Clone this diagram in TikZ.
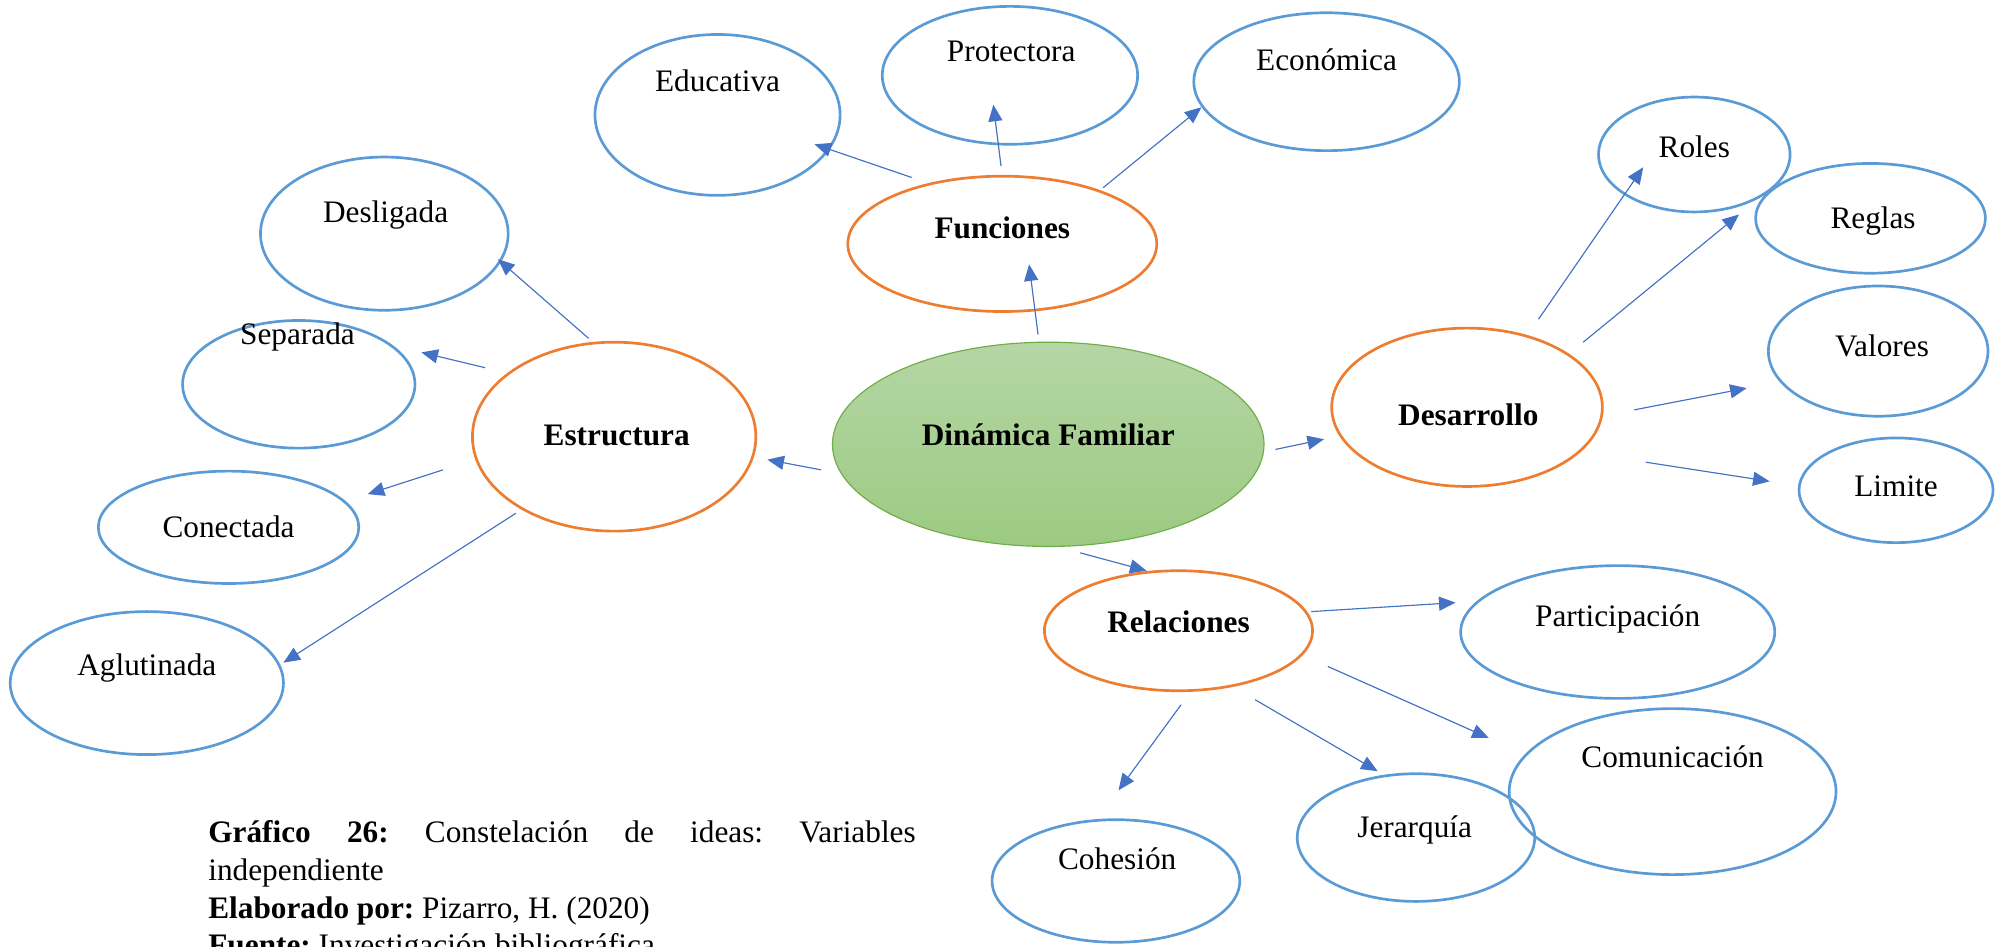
\documentclass[tikz,border=0pt]{standalone}
\usepackage{fontspec}
\setmainfont{Liberation Serif}
\usetikzlibrary{shapes.geometric,arrows.meta}
\definecolor{eblue}{HTML}{5B9BD5}
\definecolor{eorange}{HTML}{ED7D31}
\definecolor{ablue}{HTML}{4472C4}
\definecolor{egreen}{HTML}{70AD47}
\definecolor{gtop}{HTML}{B5D6A5}
\definecolor{gbot}{HTML}{9CCA82}
\frenchspacing
\tikzset{
  leaf/.style={ellipse, draw=eblue, line width=2.1pt, inner sep=0pt},
  hub/.style={ellipse, draw=eorange, line width=2.1pt, inner sep=0pt},
  lbl/.style={anchor=base, inner sep=0pt, font=\fontsize{24.5}{29.5}\selectfont},
  blbl/.style={lbl, font=\fontsize{24.5}{29.5}\selectfont\bfseries},
  arr/.style={draw=ablue, line width=0.9pt, -{Triangle[length=13pt,width=11pt]}, fill=ablue},
}
\begin{document}
\begin{tikzpicture}[x=1pt,y=-1pt]
\useasboundingbox (0,0) rectangle (1568,741);
% ellipses
\node[ellipse, draw=egreen, line width=0.9pt, top color=gtop, bottom color=gbot, minimum width=338pt, minimum height=160pt, inner sep=0pt] (din) at (821,348) {};
\node[hub, minimum width=242pt, minimum height=106pt] (fun) at (785,191) {};
\node[hub, minimum width=222pt, minimum height=148pt] (est) at (481,342) {};
\node[hub, minimum width=212pt, minimum height=124pt] (des) at (1149,319) {};
\node[hub, minimum width=210pt, minimum height=94pt] (rel) at (923,494) {};
\node[leaf, minimum width=192pt, minimum height=126pt] (edu) at (562,90) {};
\node[leaf, minimum width=200pt, minimum height=108pt] (pro) at (791,59) {};
\node[leaf, minimum width=208pt, minimum height=108pt] (eco) at (1039,64) {};
\node[leaf, minimum width=194pt, minimum height=120pt] (dsl) at (301,183) {};
\node[leaf, minimum width=182pt, minimum height=100pt] (sep) at (234,301) {};
\node[leaf, minimum width=204pt, minimum height=88pt] (con) at (179,413) {};
\node[leaf, minimum width=214pt, minimum height=112pt] (agl) at (115,535) {};
\node[leaf, minimum width=150pt, minimum height=90pt] (rol) at (1327,121) {};
\node[leaf, minimum width=180pt, minimum height=86pt] (reg) at (1465,171) {};
\node[leaf, minimum width=172pt, minimum height=102pt] (val) at (1471,275) {};
\node[leaf, minimum width=152pt, minimum height=82pt] (lim) at (1485,384) {};
\node[leaf, minimum width=246pt, minimum height=104pt] (par) at (1267,495) {};
\node[leaf, minimum width=256pt, minimum height=130pt] (com) at (1310,620) {};
\node[leaf, minimum width=186pt, minimum height=100pt] (jer) at (1109,656) {};
\node[leaf, minimum width=194pt, minimum height=96pt] (coh) at (874,690) {};
% labels
\node[blbl] (dinT) at (821,349) {Dinámica Familiar};
\node[blbl] (funT) at (785,187) {Funciones};
\node[blbl] (estT) at (483,349) {Estructura};
\node[blbl] (desT) at (1150,333) {Desarrollo};
\node[blbl] (relT) at (923,495) {Relaciones};
\node[lbl] (eduT) at (562,72) {Educativa};
\node[lbl] (proT) at (792,48) {Protectora};
\node[lbl] (ecoT) at (1039,55) {Económica};
\node[lbl] (dslT) at (302,174) {Desligada};
\node[lbl] (sepT) at (233,270) {Separada};
\node[lbl] (conT) at (179,421) {Conectada};
\node[lbl] (aglT) at (115,529) {Aglutinada};
\node[lbl] (rolT) at (1327,123) {Roles};
\node[lbl] (regT) at (1467,179) {Reglas};
\node[lbl] (valT) at (1474,279) {Valores};
\node[lbl] (limT) at (1485,389) {Limite};
\node[lbl] (parT) at (1267,491) {Participación};
\node[lbl] (comT) at (1310,601) {Comunicación};
\node[lbl] (jerT) at (1108,656) {Jerarquía};
\node[lbl] (cohT) at (875,681) {Cohesión};
% arrow endpoints
\coordinate (a1s) at (813,262); \coordinate (a1e) at (806,207);
\coordinate (a2s) at (714,139); \coordinate (a2e) at (638,113);
\coordinate (a3s) at (784,130); \coordinate (a3e) at (778,82);
\coordinate (a4s) at (864,147); \coordinate (a4e) at (941,84);
\coordinate (a5s) at (643,368); \coordinate (a5e) at (601,360);
\coordinate (a6s) at (461,265); \coordinate (a6e) at (390,203);
\coordinate (a7s) at (380,288); \coordinate (a7e) at (330,276);
\coordinate (a8s) at (347,368); \coordinate (a8e) at (288,387);
\coordinate (a9s) at (404,402); \coordinate (a9e) at (222,519);
\coordinate (a10s) at (999,352); \coordinate (a10e) at (1037,344);
\coordinate (a11s) at (1205,250); \coordinate (a11e) at (1287,131);
\coordinate (a12s) at (1240,268); \coordinate (a12e) at (1362,168);
\coordinate (a13s) at (1280,321); \coordinate (a13e) at (1368,304);
\coordinate (a14s) at (1289,362); \coordinate (a14e) at (1386,377);
\coordinate (a15s) at (846,433); \coordinate (a15e) at (898,447);
\coordinate (a16s) at (1027,479); \coordinate (a16e) at (1140,472);
\coordinate (a17s) at (1040,522); \coordinate (a17e) at (1166,578);
\coordinate (a18s) at (983,548); \coordinate (a18e) at (1079,604);
\coordinate (a19s) at (925,552); \coordinate (a19e) at (876,619);
\foreach \i in {1,...,19} { \draw[arr] (a\i s) -- (a\i e); }
% caption
\node[lbl, anchor=base west] (cap1) at (163,660) {\makebox[554pt][s]{\textbf{Gráfico 26:} Constelación de ideas: Variables}};
\node[lbl, anchor=base west] (cap2) at (163,690) {independiente};
\node[lbl, anchor=base west] (cap3) at (163,719) {\textbf{Elaborado por:} Pizarro, H. (2020)};
\node[lbl, anchor=base west] (cap4) at (163,748) {\textbf{Fuente:} Investigación bibliográfica};
\end{tikzpicture}
\end{document}
